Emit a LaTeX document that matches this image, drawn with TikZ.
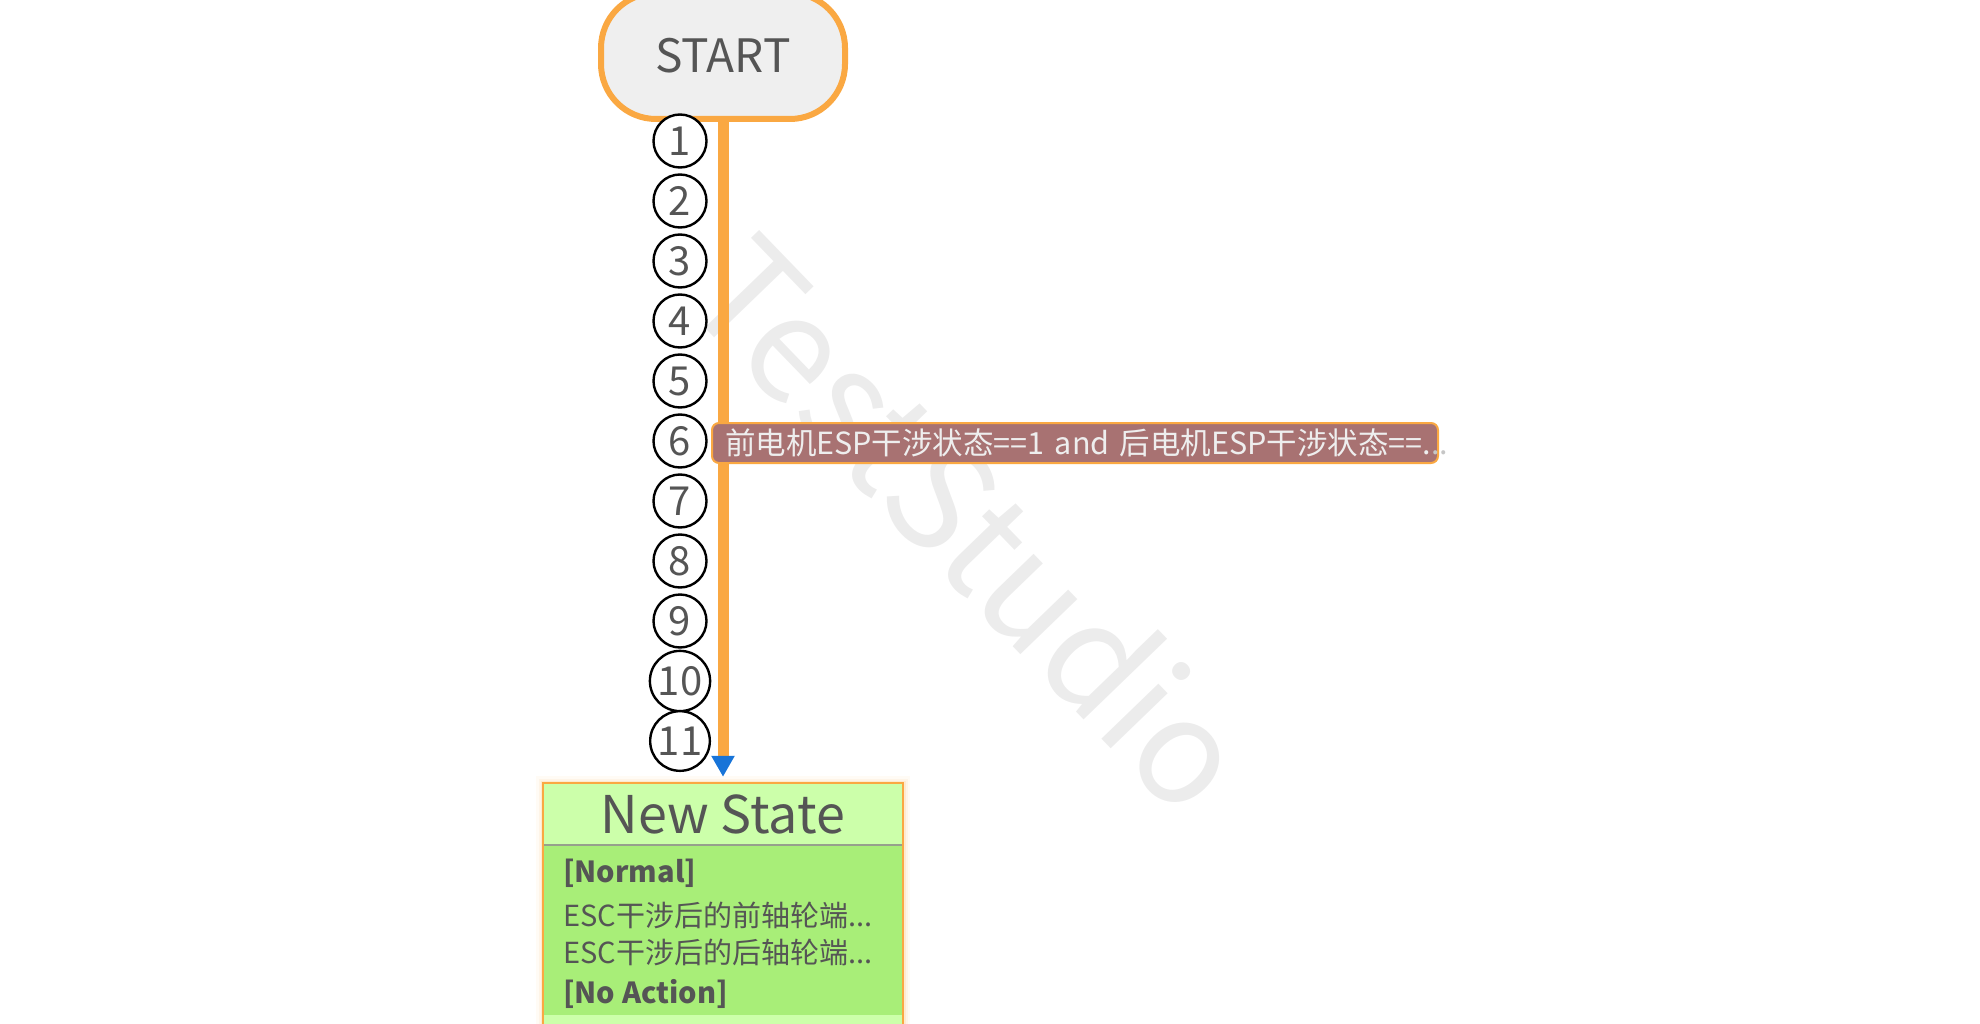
\documentclass[tikz,border=0pt]{standalone}
\usepackage{fontspec}
\setmainfont{Noto Sans CJK SC}
\usetikzlibrary{arrows.meta, positioning, shapes.geometric}

\definecolor{flowOrange}{RGB}{250,168,66}
\definecolor{startFill}{RGB}{239,239,239}
\definecolor{txtGray}{RGB}{85,85,85}
\definecolor{condFill}{RGB}{168,114,114}
\definecolor{condText}{RGB}{238,238,238}
\definecolor{tipBlue}{RGB}{24,116,216}
\definecolor{headGreen}{RGB}{204,255,170}
\definecolor{bodyGreen}{RGB}{168,238,120}
\definecolor{sepGray}{RGB}{150,160,140}
\definecolor{markGray}{RGB}{236,236,236}

\begin{document}
\begin{tikzpicture}[
    x=1pt, y=-1pt,
    startnode/.style={draw=flowOrange, line width=6pt, fill=startFill, rounded corners=55pt, minimum width=244pt, minimum height=126pt, text=txtGray, font=\fontsize{46}{54}\selectfont},
    stepnum/.style={circle, draw=black, line width=2.4pt, fill=white, minimum size=53pt, inner sep=2.5pt, text=txtGray, font=\fontsize{40}{48}\selectfont},
    cond/.style={draw=flowOrange, line width=2pt, fill=condFill, rounded corners=7pt, text=condText, minimum height=40pt, inner xsep=13pt, text width=700pt, align=left, font=\fontsize{30.5}{34}\selectfont},
    statehead/.style={fill=headGreen, minimum width=360pt, minimum height=62pt, inner sep=0pt, text=txtGray, font=\fontsize{52}{60}\selectfont},
    statebody/.style={fill=bodyGreen, minimum width=360pt, minimum height=170pt, inner sep=0pt},
    bodytext/.style={align=left, inner sep=0pt, text=txtGray, font=\fontsize{29}{37}\selectfont},
    watermark/.style={text=markGray, rotate=-46, font=\fontsize{146}{156}\selectfont},
    arr/.style={flowOrange, line width=11pt, -{Triangle[length=21pt 0, width=22pt 0, color=tipBlue]}}
]
    \useasboundingbox (0,0) rectangle (1980,1024);

    \node[watermark] (mark) at (972,522) {TestStudio};

    \node[startnode] (start) at (723,56) {START};

    % state box
    \foreach \w/\o in {14/0.05, 9/0.08, 5/0.14}
        \draw[flowOrange, line width=\w pt, opacity=\o] (543,783) rectangle (903,1040);
    \fill[headGreen] (543,1015) rectangle (903,1040);
    \node[statehead] (newstate) at (723,814) {New State};
    \node[statebody, below=0pt of newstate] (body) {};
    \draw[sepGray, line width=2pt] (newstate.south west) -- (newstate.south east);
    \draw[flowOrange, line width=1.5pt] (543,783) rectangle (903,1040);
    \node[bodytext, anchor=north west] (actions) at (563,859)
        {\textbf{[Normal]}\\[7pt]ESC干涉后的前轴轮端...\\ESC干涉后的后轴轮端...\\[3pt] \textbf{[No Action]}};

    \draw[arr, shorten >=6pt] (start.south) -- (newstate.north);

    \node[cond, anchor=west] (guard) at (711,443)
        {\mbox{前电机ESP干涉状态==1 and 后电机ESP干涉状态==.\rlap{\textcolor{gray!45}{..}}}};

    \foreach \i in {1,...,11}
        \node[stepnum] (s\i) at (680,{141+60*(\i-1)}) {\i};
\end{tikzpicture}
\end{document}
